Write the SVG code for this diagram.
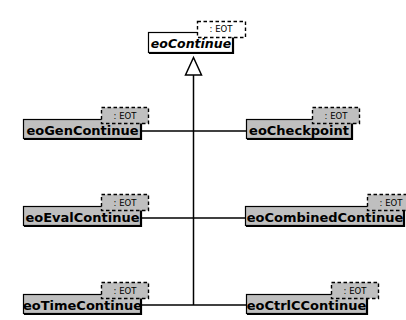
<svg xmlns="http://www.w3.org/2000/svg" width="406" height="320" viewBox="0 0 406 320">
<style>
.box{stroke:#000;stroke-width:1.2}
.cls{fill:#bfbfbf}
.top{fill:#fff}
.sh{fill:none;stroke:#000;stroke-width:1.2}
.tpl{stroke:#000;stroke-width:1.4;stroke-dasharray:3.5,2.5}
.lbl{font-family:"DejaVu Sans",sans-serif;font-weight:bold;font-size:13px;text-anchor:middle;fill:#000}
.it{font-style:italic;font-size:12.5px}
.t{font-family:"DejaVu Sans",sans-serif;font-size:8.5px;text-anchor:middle;fill:#000}
.ln{stroke:#000;stroke-width:1.5;fill:none}
</style>
<g id="connectors">
<path class="ln" d="M193.5 75 V305"/>
<path class="ln" d="M142 131 H246"/>
<path class="ln" d="M142 218 H245"/>
<path class="ln" d="M142 305 H246"/>
<polygon points="193.5,57.5 185.5,75 201.5,75" fill="#fff" stroke="#000" stroke-width="1.5"/>
</g>
<g id="eoContinue">
<rect class="box top" x="148.5" y="32.5" width="84" height="20"/>
<path class="sh" d="M233.5 33 V53.5 H149"/>
<text class="lbl it" x="191" y="47.5">eoContinue</text>
<rect class="tpl top" x="197.5" y="21.5" width="48" height="16"/>
<text class="t" x="221" y="32">: EOT</text>
</g>
<g id="eoGenContinue">
<rect class="box cls" x="23.5" y="119.5" width="117" height="19"/>
<path class="sh" d="M141.5 120 V139.5 H24"/>
<text class="lbl" x="82.5" y="134.5">eoGenContinue</text>
<rect class="tpl cls" x="101.5" y="107.5" width="47" height="16"/>
<text class="t" x="125" y="118.5">: EOT</text>
</g>
<g id="eoCheckpoint">
<rect class="box cls" x="246.5" y="119.5" width="105" height="19"/>
<path class="sh" d="M352.5 120 V139.5 H247"/>
<text class="lbl" x="299" y="134.5">eoCheckpoint</text>
<rect class="tpl cls" x="312.5" y="107.5" width="47" height="16"/>
<text class="t" x="336" y="118.5">: EOT</text>
</g>
<g id="eoEvalContinue">
<rect class="box cls" x="23.5" y="206.5" width="117" height="19"/>
<path class="sh" d="M141.5 207 V226.5 H24"/>
<text class="lbl" x="82.5" y="221.5">eoEvalContinue</text>
<rect class="tpl cls" x="101.5" y="194.5" width="47" height="16"/>
<text class="t" x="125" y="205.5">: EOT</text>
</g>
<g id="eoCombinedContinue">
<rect class="box cls" x="245.5" y="206.5" width="158" height="19"/>
<path class="sh" d="M404.5 207 V226.5 H246"/>
<text class="lbl" x="325" y="221.5">eoCombinedContinue</text>
<rect class="tpl cls" x="367.5" y="194.5" width="47" height="16"/>
<text class="t" x="391" y="205.5">: EOT</text>
</g>
<g id="eoTimeContinue">
<rect class="box cls" x="23.5" y="294.5" width="117" height="19"/>
<path class="sh" d="M141.5 295 V314.5 H24"/>
<text class="lbl" x="82.5" y="309.5">eoTimeContinue</text>
<rect class="tpl cls" x="101.5" y="282.5" width="47" height="16"/>
<text class="t" x="125" y="293.5">: EOT</text>
</g>
<g id="eoCtrlCContinue">
<rect class="box cls" x="246.5" y="294.5" width="120" height="19"/>
<path class="sh" d="M367.5 295 V314.5 H247"/>
<text class="lbl" x="306.5" y="309.5">eoCtrlCContinue</text>
<rect class="tpl cls" x="331.5" y="282.5" width="47" height="16"/>
<text class="t" x="355" y="293.5">: EOT</text>
</g>
</svg>
